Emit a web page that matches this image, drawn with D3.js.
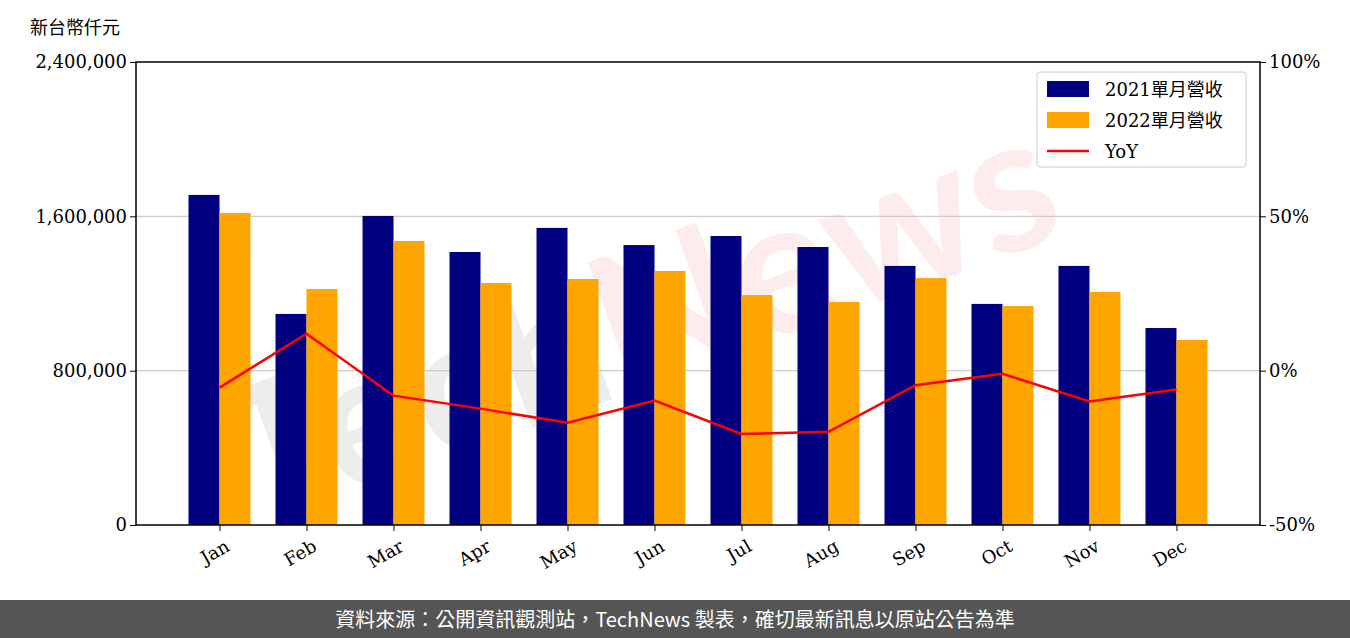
<!DOCTYPE html><html><head><meta charset="utf-8">
<script src="https://cdn.jsdelivr.net/npm/d3@7"></script>
<style>body{margin:0;background:#fff}</style></head><body><svg id="c" width="1350" height="638"></svg>
<script>
const months=["Jan","Feb","Mar","Apr","May","Jun","Jul","Aug","Sep","Oct","Nov","Dec"];
const rev2021=[1711000,1094000,1602000,1415000,1540000,1451000,1498000,1441000,1343000,1146000,1343000,1021000];
const rev2022=[1617000,1223000,1472000,1254000,1275000,1317000,1192000,1156000,1280000,1135000,1208000,959000];
const yoy=[-5.5,12,-8.1,-12.3,-16.9,-9.7,-20.5,-19.8,-4.7,-1,-10,-6.1];
const leftTicks=[0,800000,1600000,2400000];
const rightTicks=[-50,0,50,100];
const L=136,R=1260,T=62,B=525;
const svg=d3.select("#c");
const serif="'DejaVu Serif','Noto Sans CJK TC',serif";
// watermark
const wm=svg.append("g").attr("transform","translate(640,320) rotate(-20)").attr("font-family","Lato,sans-serif").attr("font-weight","bold").attr("font-size",190).attr("text-anchor","middle");
const wt=wm.append("text").attr("x",0).attr("y",65);
wt.append("tspan").attr("fill","#000").attr("fill-opacity",0.07).text("Tech");
wt.append("tspan").attr("fill","#e03030").attr("fill-opacity",0.09).text("News");
const x=d3.scalePoint().domain(months).range([L,R]).padding(0.96);
const y=d3.scaleLinear().domain([0,2400000]).range([B,T]);
const y2=d3.scaleLinear().domain([-50,100]).range([B,T]);
const bw=31;
svg.append("g").selectAll("line").data(leftTicks.slice(1,3)).join("line").attr("x1",L).attr("x2",R).attr("y1",d=>y(d)).attr("y2",d=>y(d)).attr("stroke","#ccc").attr("stroke-width",1.2);
svg.append("g").selectAll("rect").data(rev2021).join("rect").attr("x",(d,i)=>x(months[i])-bw).attr("width",bw).attr("y",d=>y(d)).attr("height",d=>B-y(d)).attr("fill","#000080");
svg.append("g").selectAll("rect").data(rev2022).join("rect").attr("x",(d,i)=>x(months[i])).attr("width",bw).attr("y",d=>y(d)).attr("height",d=>B-y(d)).attr("fill","#ffa500");
svg.append("path").datum(yoy).attr("d",d3.line().x((d,i)=>x(months[i])).y(d=>y2(d))).attr("fill","none").attr("stroke","red").attr("stroke-width",2.5);
svg.append("rect").attr("x",L).attr("y",T).attr("width",R-L).attr("height",B-T).attr("fill","none").attr("stroke","#000").attr("stroke-width",1.5);
const ya=svg.append("g").attr("transform",`translate(${L},0)`).call(d3.axisLeft(y).tickValues(leftTicks).tickFormat(d3.format(",")).tickSize(6));
const yb=svg.append("g").attr("transform",`translate(${R},0)`).call(d3.axisRight(y2).tickValues(rightTicks).tickFormat(d=>d+"%").tickSize(6));
const xa=svg.append("g").attr("transform",`translate(0,${B})`).call(d3.axisBottom(x).tickSize(6));
[ya,yb,xa].forEach(a=>{a.select(".domain").remove();a.selectAll("text").attr("font-family",serif).attr("font-size",18).attr("fill","#000");});
xa.selectAll("text").attr("text-anchor","end").attr("transform","translate(0,6) rotate(-30)");
svg.append("text").attr("x",30).attr("y",34).attr("font-family","'Noto Sans CJK TC',sans-serif").attr("font-size",18).text("新台幣仟元");
// legend
const lg=svg.append("g").attr("transform","translate(1037,72)");
lg.append("rect").attr("width",209).attr("height",95).attr("rx",3).attr("fill","#fff").attr("fill-opacity",0.8).attr("stroke","#ccc");
const items=[["2021單月營收","#000080","r"],["2022單月營收","#ffa500","r"],["YoY","red","l"]];
items.forEach((it,i)=>{const g=lg.append("g").attr("transform",`translate(10,${17+i*31})`);
 if(it[2]=="r")g.append("rect").attr("x",0).attr("y",-8).attr("width",42).attr("height",16).attr("fill",it[1]);
 else g.append("line").attr("x1",0).attr("x2",42).attr("stroke",it[1]).attr("stroke-width",2.5);
 g.append("text").attr("x",58).attr("y",7).attr("font-family",serif).attr("font-size",18).text(it[0]);});
svg.append("rect").attr("x",0).attr("y",600).attr("width",1350).attr("height",38).attr("fill","#555");
svg.append("text").attr("x",675).attr("y",627).attr("text-anchor","middle").attr("fill","#fff").attr("font-family","'Noto Sans CJK TC',sans-serif").attr("font-size",20).text("資料來源：公開資訊觀測站，TechNews 製表，確切最新訊息以原站公告為準");
</script></body></html>
